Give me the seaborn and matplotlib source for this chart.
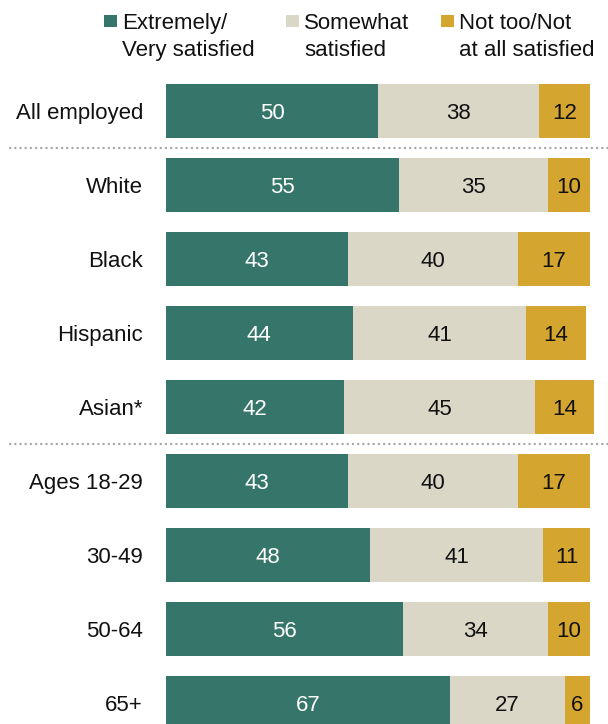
import matplotlib
matplotlib.use("Agg")
import matplotlib.pyplot as plt
import matplotlib.transforms as mtransforms
from matplotlib.patches import Rectangle
import seaborn as sns
import pandas as pd

groups = ["All employed", "White", "Black", "Hispanic", "Asian*",
          "Ages 18-29", "30-49", "50-64", "65+"]
very_satisfied = [50, 55, 43, 44, 42, 43, 48, 56, 67]
somewhat_satisfied = [38, 35, 40, 41, 45, 40, 41, 34, 27]
not_satisfied = [12, 10, 17, 14, 14, 17, 11, 10, 6]
legend_labels = [("Extremely/", "Very satisfied"), ("Somewhat", "satisfied"),
                 ("Not too/Not", "at all satisfied")]

GREEN = "#36766A"
BEIGE = "#DAD7C7"
GOLD = "#D4A52F"
TEXT = "#111111"

sns.set_theme(style="white")
plt.rcParams["font.family"] = ["Liberation Sans", "DejaVu Sans"]

df = pd.DataFrame({
    "group": groups,
    "very": very_satisfied,
    "somewhat": somewhat_satisfied,
    "not": not_satisfied,
})
df["upto_somewhat"] = df["very"] + df["somewhat"]
df["total"] = df["upto_somewhat"] + df["not"]

W, H = 608, 724
fig = plt.figure(figsize=(W / 100, H / 100), dpi=100)
ax_left, ax_right, ax_top = 166, 166 + 103 * 4.24, 74
ax = fig.add_axes([ax_left / W, 0, (ax_right - ax_left) / W, (H - ax_top) / H])

# stacked bars drawn as overlapping cumulative totals
bw = 0.72
sns.barplot(data=df, y="group", x="total", color=GOLD, width=bw, ax=ax,
            orient="h", saturation=1, linewidth=0)
sns.barplot(data=df, y="group", x="upto_somewhat", color=BEIGE, width=bw, ax=ax,
            orient="h", saturation=1, linewidth=0)
sns.barplot(data=df, y="group", x="very", color=GREEN, width=bw, ax=ax,
            orient="h", saturation=1, linewidth=0)

ax.set_xlim(0, 103)
ax.set_ylim(8 + 21 / 74, -0.5)
ax.set_xlabel("")
ax.set_ylabel("")
ax.set_xticks([])
for s in ax.spines.values():
    s.set_visible(False)

fs = 16
ax.tick_params(axis="y", length=0, pad=16.5, labelsize=fs, labelcolor=TEXT)

for i, row in df.iterrows():
    ax.text(row["very"] / 2, i, str(row["very"]), ha="center", va="center_baseline",
            color="white", fontsize=fs)
    ax.text(row["very"] + row["somewhat"] / 2, i, str(row["somewhat"]),
            ha="center", va="center_baseline", color=TEXT, fontsize=fs)
    ax.text(row["upto_somewhat"] + row["not"] / 2, i, str(row["not"]),
            ha="center", va="center_baseline", color=TEXT, fontsize=fs)

# dotted separators between sections
trans = mtransforms.blended_transform_factory(fig.transFigure, ax.transData)
for y in (0.5, 4.5):
    ax.plot([10 / W, 1.0], [y, y], transform=trans, color="#A8A8A8",
            linestyle=(0, (0.1, 2.1)), linewidth=1.7, dash_capstyle="round",
            clip_on=False)

# legend
legend_colors = [GREEN, BEIGE, GOLD]
sq_x = [104, 286, 441]
for x, c, (l1, l2) in zip(sq_x, legend_colors, legend_labels):
    fig.patches.append(Rectangle((x / W, 1 - 27 / H), 12.5 / W, 12.5 / H,
                                 transform=fig.transFigure, color=c, lw=0))
    fig.text((x + 18) / W, 1 - 29 / H, l1, ha="left", va="baseline",
             fontsize=fs, color=TEXT)
    fig.text((x + 18) / W, 1 - 56 / H, l2, ha="left", va="baseline",
             fontsize=fs, color=TEXT)

fig.savefig("out.png", dpi=100)
